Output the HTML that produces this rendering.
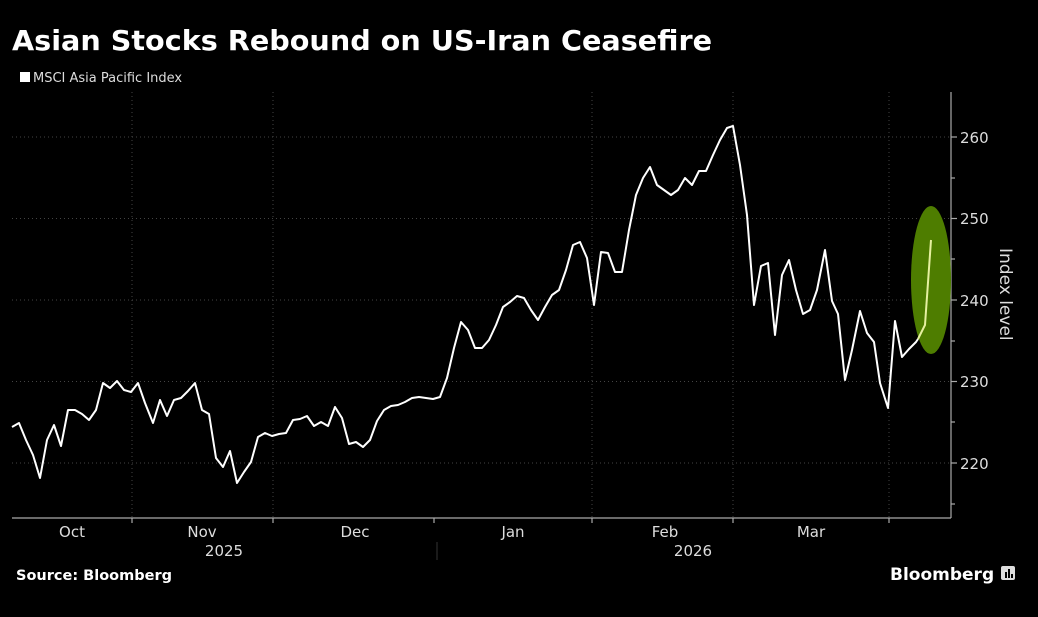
<!DOCTYPE html>
<html><head><style>
body{margin:0;background:#000;}
svg text{font-family:"DejaVu Sans","Liberation Sans",sans-serif;}
</style></head><body>
<svg width="1038" height="612" xmlns="http://www.w3.org/2000/svg">
<rect width="1038" height="612" fill="#000"/>
<text x="12" y="50" fill="#fff" font-size="28" font-weight="bold" font-family="DejaVu Sans" textLength="700" lengthAdjust="spacingAndGlyphs">Asian Stocks Rebound on US-Iran Ceasefire</text>
<rect x="20" y="72" width="10" height="10" fill="#fff"/>
<text x="33" y="82" fill="#ddd" font-size="13">MSCI Asia Pacific Index</text>
<g stroke="#444" stroke-dasharray="1,3" stroke-width="1">
<line x1="12" y1="137" x2="951" y2="137"/>
<line x1="12" y1="218.5" x2="951" y2="218.5"/>
<line x1="12" y1="300" x2="951" y2="300"/>
<line x1="12" y1="381.5" x2="951" y2="381.5"/>
<line x1="12" y1="463" x2="951" y2="463"/>
<line x1="132" y1="92" x2="132" y2="518"/>
<line x1="273" y1="92" x2="273" y2="518"/>
<line x1="592" y1="92" x2="592" y2="518"/>
<line x1="733" y1="92" x2="733" y2="518"/>
<line x1="889" y1="92" x2="889" y2="518"/>
</g>
<g stroke="#aaa" stroke-width="1.2">
<line x1="12" y1="518" x2="951" y2="518"/>
<line x1="951" y1="92" x2="951" y2="518"/>
<line x1="951" y1="137" x2="957" y2="137"/><line x1="951" y1="218.5" x2="957" y2="218.5"/><line x1="951" y1="300" x2="957" y2="300"/><line x1="951" y1="381.5" x2="957" y2="381.5"/><line x1="951" y1="463" x2="957" y2="463"/>
<line x1="951" y1="178" x2="955" y2="178"/><line x1="951" y1="259" x2="955" y2="259"/><line x1="951" y1="341" x2="955" y2="341"/><line x1="951" y1="422" x2="955" y2="422"/><line x1="951" y1="504" x2="955" y2="504"/>
<line x1="132" y1="518" x2="132" y2="523"/><line x1="273" y1="518" x2="273" y2="523"/><line x1="434" y1="518" x2="434" y2="523"/><line x1="592" y1="518" x2="592" y2="523"/><line x1="733" y1="518" x2="733" y2="523"/><line x1="889" y1="518" x2="889" y2="523"/>
</g>
<line x1="437" y1="542" x2="437" y2="560" stroke="#333"/>
<g fill="#ddd" font-size="15">
<text x="960" y="143">260</text><text x="960" y="224">250</text><text x="960" y="306">240</text><text x="960" y="387">230</text><text x="960" y="469">220</text>
<text x="72" y="537" text-anchor="middle">Oct</text><text x="202" y="537" text-anchor="middle">Nov</text><text x="355" y="537" text-anchor="middle">Dec</text><text x="513" y="537" text-anchor="middle">Jan</text><text x="665" y="537" text-anchor="middle">Feb</text><text x="811" y="537" text-anchor="middle">Mar</text>
<text x="224" y="556" text-anchor="middle">2025</text><text x="693" y="556" text-anchor="middle">2026</text>
<text x="0" y="0" font-size="17" transform="translate(1000,248) rotate(90)">Index level</text>
</g>
<ellipse cx="931" cy="280" rx="20" ry="74" fill="#4e7d00"/>
<polyline fill="none" stroke="#fff" stroke-width="2" stroke-linejoin="round" points="12,427 19,423 26,440 33,455 40,478 47,440 54,425 61,446 68,410 75,410 82,414 89,420 96,410 103,383 110,388 117,381 124,390 131,392 138,383 145,403 153,423 160,400 167,416 174,400 181,398 188,391 195,383 202,410 209,414 216,458 223,467 230,451 237,483 244,472 251,462 258,437 265,433 272,436 279,434 286,433 293,420 300,419 307,416 314,426 321,422 328,426 335,407 342,418 349,444 356,442 363,447 370,440 377,421 384,410 391,406 398,405 405,402 412,398 419,397 426,398 433,399 440,397 447,378 454,348 461,322 468,330 475,348 482,348 489,340 496,325 503,307 510,302 517,296 524,298 531,310 538,320 545,307 552,295 559,290 566,270 573,245 580,242 587,258 594,305 601,252 608,253 615,272 622,272 629,230 636,195 643,178 650,167 657,185 664,190 671,195 678,190 685,178 692,185 699,171 706,171 713,155 720,140 727,128 733,126 740,165 747,215 754,305 761,266 768,263 775,335 782,275 789,260 796,290 803,314 810,310 817,290 825,250 832,301 838,314 845,380 852,350 860,311 867,333 874,342 880,383 888,408 895,321 902,357 909,349 916,342 918,339"/>
<polyline fill="none" stroke="#e6f0a0" stroke-width="2" points="918,339 925,325 931,240"/>
<text x="16" y="580" fill="#fff" font-size="14" font-weight="bold" font-family="Liberation Mono" textLength="156" lengthAdjust="spacingAndGlyphs">Source: Bloomberg</text>
<text x="890" y="580" fill="#fff" font-size="17" font-weight="bold" font-family="Liberation Sans">Bloomberg</text>
<rect x="1001" y="566" width="14" height="14" rx="2" fill="#ddd"/>
<rect x="1005" y="572" width="2" height="6" fill="#000"/><rect x="1008" y="569" width="2" height="9" fill="#000"/><rect x="1011" y="574" width="2" height="4" fill="#000"/>
</svg>
</body></html>
